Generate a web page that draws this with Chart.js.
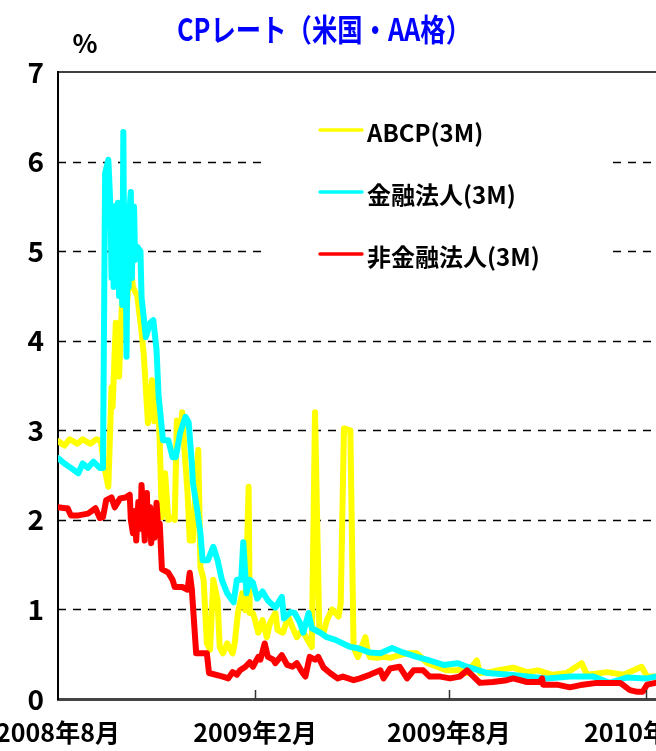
<!DOCTYPE html>
<html>
<head>
<meta charset="utf-8">
<script src="https://cdn.jsdelivr.net/npm/chart.js@4.4.0/dist/chart.umd.min.js"></script>
<style>
  html, body { margin: 0; padding: 0; background: #fff; overflow: hidden; width: 656px; height: 751px; }
  canvas { display: block; }
</style>
</head>
<body>
<canvas id="cpChart" width="760" height="751"></canvas>
<script>
// CP rates (US, AA grade)
// x values are days since 2008-08-01, y values in %
const chartTitle = "CPレート（米国・AA格）"
const seriesNames = ["ABCP(3M)", "金融法人(3M)", "非金融法人(3M)"]
const seriesColors = ["#ffff00", "#00ffff", "#ff0000"]
const tickDays = [0, 184, 365, 549]
const tickLabels = ["2008年8月", "2009年2月", "2009年8月", "2010年2月"]

const abcpDays = [0, 6, 11, 18, 23, 30, 36, 40, 43, 47, 50, 51, 54, 57, 60, 64, 67, 70, 74, 78, 80, 84, 88, 90, 93, 95, 97, 100, 103, 107, 109, 111, 114, 116, 118, 121, 123, 126, 129, 131, 133, 136, 139, 142, 145, 149, 151, 154, 158, 163, 165, 168, 172, 175, 178, 179, 182, 184, 187, 191, 195, 198, 203, 205, 210, 215, 219, 223, 228, 233, 237, 240, 244, 248, 251, 256, 259, 262, 264, 267, 273, 276, 277, 280, 287, 289, 291, 298, 304, 310, 319, 327, 335, 345, 354, 363, 373, 378, 382, 391, 394, 403, 410, 425, 438, 448, 462, 475, 489, 494, 513, 528, 545, 550, 558]
const abcpRates = [2.88, 2.83, 2.90, 2.85, 2.90, 2.85, 2.90, 2.88, 2.60, 2.37, 3.48, 3.26, 4.20, 3.60, 4.50, 4.30, 4.87, 4.60, 4.50, 4.10, 3.86, 3.08, 3.56, 3.10, 3.50, 2.86, 2.03, 2.52, 2.00, 2.03, 2.00, 3.11, 2.90, 3.20, 2.80, 2.30, 1.77, 1.77, 2.50, 2.78, 1.47, 1.33, 0.62, 0.55, 1.33, 1.10, 0.58, 0.51, 0.62, 0.51, 0.62, 0.96, 1.18, 0.99, 2.37, 0.96, 0.96, 0.88, 0.74, 0.88, 0.69, 0.85, 0.96, 0.77, 0.74, 0.92, 0.80, 0.69, 0.77, 0.66, 0.58, 3.20, 0.77, 0.74, 0.88, 1.00, 0.96, 0.92, 1.07, 3.02, 3.00, 0.58, 0.55, 0.47, 0.69, 0.55, 0.47, 0.46, 0.47, 0.46, 0.49, 0.51, 0.51, 0.40, 0.36, 0.32, 0.32, 0.35, 0.29, 0.43, 0.29, 0.30, 0.32, 0.35, 0.30, 0.32, 0.27, 0.29, 0.40, 0.27, 0.30, 0.27, 0.36, 0.25, 0.25]

const finDays = [0, 6, 12, 19, 23, 28, 33, 39, 42, 44, 47, 49, 50, 51, 52, 53, 54, 56, 57, 58, 60, 61, 62, 63, 64, 65, 66, 67, 68, 69, 70, 71, 72, 74, 77, 78, 82, 86, 89, 92, 94, 95, 98, 103, 107, 110, 114, 119, 122, 125, 126, 130, 133, 135, 140, 145, 149, 153, 158, 164, 167, 171, 173, 176, 179, 182, 186, 191, 196, 203, 209, 211, 217, 221, 226, 229, 234, 237, 245, 251, 259, 266, 273, 279, 291, 301, 312, 322, 335, 347, 360, 373, 382, 385, 401, 422, 438, 457, 478, 500, 515, 531, 550, 558]
const finRates = [2.69, 2.63, 2.58, 2.52, 2.63, 2.58, 2.65, 2.58, 2.58, 5.87, 6.02, 5.49, 4.70, 5.50, 4.60, 5.50, 4.80, 5.54, 4.50, 5.40, 4.40, 6.33, 4.60, 5.20, 3.82, 5.30, 4.60, 5.50, 5.66, 4.70, 5.40, 5.50, 4.90, 5.05, 5.00, 4.49, 4.04, 4.20, 4.23, 3.90, 3.37, 3.26, 2.89, 2.89, 2.70, 2.70, 2.97, 3.15, 3.09, 2.63, 2.41, 2.11, 1.85, 1.55, 1.55, 1.70, 1.55, 1.33, 1.18, 1.08, 1.33, 1.33, 1.75, 1.18, 1.33, 1.30, 1.12, 1.20, 1.10, 1.02, 1.14, 0.90, 0.97, 0.96, 0.85, 0.74, 0.96, 0.79, 0.74, 0.69, 0.66, 0.62, 0.58, 0.57, 0.52, 0.51, 0.57, 0.52, 0.47, 0.43, 0.38, 0.40, 0.36, 0.35, 0.29, 0.27, 0.25, 0.23, 0.25, 0.25, 0.18, 0.24, 0.23, 0.25]

const nonfinDays = [0, 7, 9, 12, 19, 28, 35, 39, 42, 45, 50, 53, 58, 63, 67, 68, 70, 72, 73, 75, 77, 78, 79, 81, 83, 84, 86, 87, 89, 90, 92, 94, 95, 97, 103, 107, 109, 116, 121, 123, 125, 129, 139, 141, 154, 159, 163, 167, 170, 175, 179, 182, 187, 189, 193, 196, 201, 203, 209, 214, 219, 223, 228, 231, 235, 240, 243, 248, 254, 261, 266, 276, 282, 291, 301, 304, 310, 319, 326, 332, 341, 347, 357, 366, 375, 382, 394, 406, 419, 425, 438, 450, 452, 453, 466, 478, 490, 503, 513, 525, 534, 541, 546, 550, 558]
const nonfinRates = [2.14, 2.13, 2.13, 2.05, 2.05, 2.07, 2.13, 2.02, 2.03, 2.22, 2.25, 2.14, 2.24, 2.25, 2.28, 2.00, 1.85, 2.10, 1.77, 2.20, 1.90, 2.39, 2.20, 1.77, 2.30, 1.85, 2.14, 1.74, 2.10, 1.80, 2.19, 1.85, 1.96, 1.45, 1.41, 1.33, 1.25, 1.25, 1.22, 1.41, 1.22, 0.51, 0.51, 0.29, 0.25, 0.23, 0.30, 0.27, 0.32, 0.36, 0.41, 0.36, 0.47, 0.44, 0.62, 0.47, 0.44, 0.40, 0.49, 0.38, 0.36, 0.40, 0.30, 0.25, 0.47, 0.44, 0.47, 0.35, 0.29, 0.23, 0.25, 0.21, 0.23, 0.27, 0.32, 0.23, 0.34, 0.36, 0.23, 0.32, 0.32, 0.25, 0.25, 0.23, 0.25, 0.32, 0.18, 0.19, 0.21, 0.23, 0.19, 0.19, 0.23, 0.16, 0.16, 0.13, 0.16, 0.18, 0.18, 0.18, 0.10, 0.08, 0.08, 0.16, 0.18]

const toPoints = (days, rates) => days.map((d, i) => ({ x: d, y: rates[i] }))

const JP_FONT = '"Noto Sans CJK JP", "Noto Sans", sans-serif'

// draws dashed grid, legend, title and inner tick marks
const decorations = {
  id: "decorations",
  beforeDatasetsDraw(chart) {
    const { ctx, chartArea: a, scales: { y } } = chart
    ctx.save()
    ctx.strokeStyle = "#000"
    ctx.lineWidth = 1.3
    ctx.setLineDash([8, 7])
    for (let v = 1; v < 7; v++) {
      const py = Math.round(y.getPixelForValue(v)) + 0.5
      ctx.beginPath()
      ctx.moveTo(a.left, py)
      ctx.lineTo(a.right, py)
      ctx.stroke()
    }
    ctx.setLineDash([])
    ctx.lineWidth = 1.5
    const top = Math.round(y.getPixelForValue(7))
    ctx.beginPath()
    ctx.moveTo(a.left, top)
    ctx.lineTo(a.right, top)
    ctx.stroke()

    // legend backing box hides the grid under it
    ctx.fillStyle = "#fff"
    ctx.fillRect(268, 100, 344, 200)
    ctx.restore()
  },
  afterDraw(chart) {
    const { ctx, chartArea: a, scales: { x } } = chart
    ctx.save()

    // inner tick marks on the date axis
    ctx.strokeStyle = "#333"
    ctx.lineWidth = 1.5
    tickDays.slice(1).forEach(d => {
      const px = Math.round(x.getPixelForValue(d)) + 0.5
      ctx.beginPath()
      ctx.moveTo(px, a.bottom)
      ctx.lineTo(px, a.bottom - 9)
      ctx.stroke()
    })

    // legend
    const rows = [130, 192, 254]
    seriesNames.forEach((name, i) => {
      ctx.strokeStyle = seriesColors[i]
      ctx.lineWidth = 3.5
      ctx.lineCap = "round"
      ctx.beginPath()
      ctx.moveTo(320, rows[i])
      ctx.lineTo(362, rows[i])
      ctx.stroke()
      ctx.fillStyle = "#000"
      ctx.font = "bold 24px " + JP_FONT
      ctx.textBaseline = "middle"
      ctx.textAlign = "left"
      ctx.fillText(name, 367, rows[i] + 3)
    })

    // title
    ctx.font = "bold 31px " + JP_FONT
    ctx.fillStyle = "#0000ff"
    ctx.textAlign = "center"
    ctx.textBaseline = "middle"
    const w = ctx.measureText(chartTitle).width
    const sx = Math.min(1, 294 / w)
    ctx.translate(324, 29)
    ctx.scale(sx, 1)
    ctx.fillText(chartTitle, 0, 0)
    ctx.setTransform(1, 0, 0, 1, 0, 0)

    // unit
    ctx.font = "bold 26px " + JP_FONT
    ctx.fillStyle = "#000"
    ctx.fillText("%", 85, 43)
    ctx.restore()
  }
}

const ctx = document.getElementById("cpChart").getContext("2d")
const allDays = [abcpDays, finDays, nonfinDays]
const allRates = [abcpRates, finRates, nonfinRates]

new Chart(ctx, {
  type: "line",
  data: {
    datasets: seriesNames.map((name, i) => ({
      label: name,
      data: toPoints(allDays[i], allRates[i]),
      borderColor: seriesColors[i],
      borderWidth: 6,
      borderJoinStyle: "round",
      borderCapStyle: "round",
      pointRadius: 0,
      tension: 0,
      fill: false,
      order: 2 - i
    }))
  },
  options: {
    responsive: false,
    animation: false,
    devicePixelRatio: 1,
    layout: { padding: { top: 72, left: 0, right: 0, bottom: 0 } },
    plugins: {
      legend: { display: false },
      title: { display: false },
      tooltip: { enabled: false }
    },
    scales: {
      x: {
        type: "linear",
        min: 0,
        max: 655.5,
        afterBuildTicks: scale => {
          scale.ticks = tickDays.map(v => ({ value: v }))
        },
        afterFit: scale => {
          scale.height = 52
          scale.paddingLeft = 0
          scale.paddingRight = 0
        },
        ticks: {
          autoSkip: false,
          maxRotation: 0,
          padding: 18,
          color: "#000",
          font: { family: JP_FONT, size: 25, weight: "bold" },
          callback: v => tickLabels[tickDays.indexOf(v)]
        },
        grid: { drawOnChartArea: false, drawTicks: false },
        border: { display: true, color: "#444", width: 3 }
      },
      y: {
        min: 0,
        max: 7,
        afterFit: scale => { scale.width = 58 },
        ticks: {
          stepSize: 1,
          padding: 14,
          color: "#000",
          font: { family: JP_FONT, size: 28, weight: "bold" }
        },
        grid: { drawOnChartArea: false, drawTicks: false },
        border: { display: true, color: "#000", width: 2 }
      }
    }
  },
  plugins: [decorations]
})
</script>
</body>
</html>
